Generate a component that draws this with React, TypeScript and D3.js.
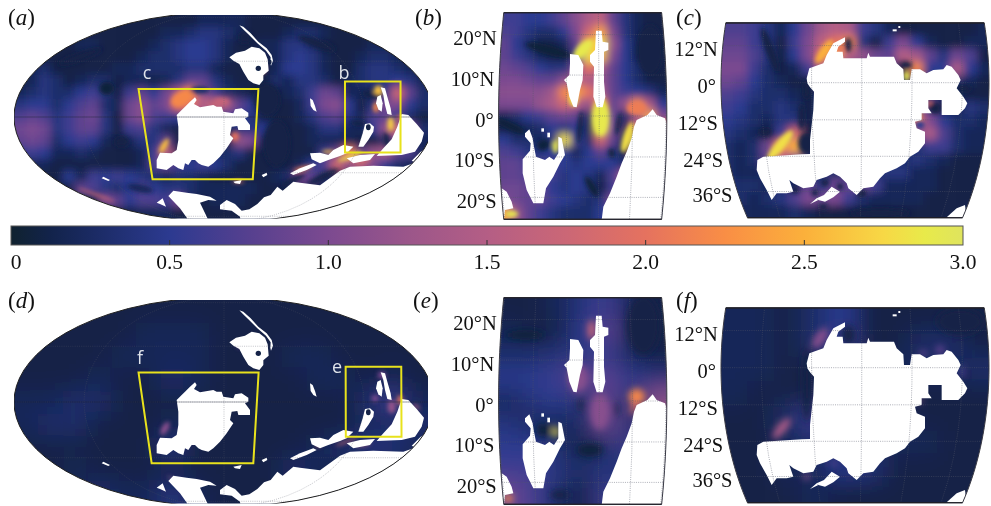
import React from "react";
import * as d3 from "d3";

// colour bar
const barStops = [0, 0.12, 0.25, 0.5, 0.75, 1, 1.25, 1.5, 1.75, 2, 2.25, 2.5, 2.75, 2.88, 3];
const barColors = ["#10222f", "#12234a", "#1a2a62", "#2c3a90", "#56408f", "#7c4a90", "#9b568a", "#b45e85", "#cb6776", "#e5725f", "#f98e45", "#fbb03b", "#f7d845", "#e8ea4a", "#dfe45e"];
const barTicks = [0, 0.5, 1, 1.5, 2, 2.5, 3];
const barLabels = ["0", "0.5", "1.0", "1.5", "2.0", "2.5", "3.0"];

const latTicksB = [20, 10, 0, -10, -20];
const latLabelsB = ["20°N", "10°N", "0°", "10°S", "20°S"];
const latTicksC = [12, 0, -12, -24, -36];
const latLabelsC = ["12°N", "0°", "12°S", "24°S", "36°S"];

// field values, tenths of the colour bar unit
const fieldA = [
  [1,1,1,1,1,1,1,1,1,1,1,1,1,1,1,2,2,2,2,1,1,1,1,1,1,1,1,1,1,1,1,1,1,1],
  [1,1,1,1,1,1,1,1,1,1,1,1,2,2,3,4,4,3,2,1,1,1,2,3,3,2,1,1,1,1,1,1,1,1],
  [1,1,1,1,1,2,2,1,1,1,1,2,3,4,5,5,4,2,1,1,2,2,4,4,3,1,1,1,1,2,2,1,1,1],
  [1,1,1,1,1,1,1,1,1,1,2,3,3,4,5,5,4,2,1,1,1,2,4,5,4,2,1,1,2,3,3,2,1,1],
  [1,2,3,1,1,1,1,1,2,2,3,3,3,3,4,4,2,1,1,1,1,2,5,5,4,2,1,1,3,4,4,3,2,1],
  [1,2,4,3,1,2,3,3,1,2,2,1,2,4,8,8,4,2,1,1,1,3,2,4,4,3,1,2,3,4,4,5,4,2],
  [2,3,4,3,3,5,6,4,1,6,8,5,9,14,22,12,6,3,2,1,1,1,2,3,6,9,8,2,2,1,5,18,8,3],
  [4,5,5,3,5,7,8,3,2,9,11,8,10,20,20,15,18,14,8,5,4,1,1,2,6,10,11,5,1,4,10,10,5,3],
  [7,8,7,4,6,8,9,4,1,9,11,7,6,5,5,5,5,5,5,4,1,1,1,2,4,7,8,4,2,7,8,5,3,1],
  [9,10,9,4,6,8,8,4,1,6,7,4,2,1,1,1,1,1,4,4,5,1,1,1,2,4,4,2,2,5,12,18,10,3],
  [8,9,8,3,5,6,5,2,1,2,4,4,8,1,1,1,1,1,12,10,2,1,1,1,2,2,2,2,1,1,3,10,3,2],
  [5,6,5,2,2,3,2,1,1,1,2,6,16,2,2,2,2,3,4,1,1,1,1,1,1,6,9,22,8,12,14,8,7,2],
  [1,2,2,1,1,1,1,1,1,1,2,7,8,6,5,6,5,3,1,1,1,1,1,2,5,7,18,12,16,10,5,3,2,1],
  [1,1,1,1,5,2,6,5,6,5,4,3,2,3,3,2,1,1,1,1,1,2,3,10,8,3,2,1,1,1,1,1,1,1],
  [1,1,1,1,1,8,7,4,3,5,7,5,4,4,3,2,2,2,2,2,1,1,1,2,1,1,1,1,1,1,1,1,1,1],
  [1,1,1,1,1,1,1,10,8,5,7,7,6,10,2,1,2,2,2,1,1,1,1,1,1,1,1,1,1,1,1,1,1,1],
  [1,1,1,1,1,1,1,1,1,1,2,2,2,1,1,1,1,1,1,1,1,1,1,1,1,1,1,1,1,1,1,1,1,1],
];

const fieldB = [
  [6,6,5,5,6,8,11,14,16,8,4,2,1,1],
  [7,6,4,3,3,5,10,18,24,10,4,2,1,1],
  [8,5,3,1,1,2,8,25,28,12,5,2,1,1],
  [8,6,4,2,1,1,6,28,26,10,5,2,1,1],
  [9,8,7,5,4,4,10,20,14,8,5,3,1,1],
  [10,10,9,8,8,11,16,14,12,8,5,3,1,1],
  [11,11,11,11,13,22,24,20,14,8,6,5,4,2],
  [10,10,10,12,14,18,15,12,22,8,12,22,14,5],
  [2,3,5,6,8,9,8,3,28,9,3,12,24,10],
  [1,1,2,3,5,4,5,2,28,10,2,18,5,18],
  [5,3,3,2,4,28,6,3,18,8,2,28,4,4],
  [7,6,4,4,5,5,2,5,8,4,1,16,5,5],
  [8,8,6,6,6,5,4,5,5,5,3,8,4,4],
  [8,8,7,7,6,4,5,4,2,7,14,5,3,3],
  [9,9,8,8,5,4,5,4,1,6,12,5,3,3],
  [10,9,8,8,6,5,4,3,4,10,5,3,3,3],
  [24,12,8,6,4,3,3,3,5,6,4,3,3,3],
];

const fieldC = [
  [7,7,6,4,2,5,9,13,15,14,6,4,2,1,1,1,1,1,1,2],
  [8,8,6,4,1,6,10,16,20,22,4,1,6,10,5,2,1,1,2,2],
  [9,9,7,4,1,5,10,18,24,15,12,9,8,15,13,8,4,9,7,1],
  [10,10,6,3,1,2,6,14,4,4,4,4,4,1,22,5,5,14,5,2],
  [9,8,5,3,2,1,1,4,3,3,3,3,3,3,3,3,3,3,2,1],
  [7,6,4,3,3,2,1,3,3,3,3,3,3,3,3,3,3,2,1,1],
  [6,5,3,3,4,3,1,3,3,3,3,3,3,3,3,9,1,2,4,3],
  [5,4,3,2,4,4,1,3,3,3,3,3,3,3,20,10,5,3,3,2],
  [4,3,2,1,6,18,1,1,3,3,3,3,3,3,10,14,7,3,2,2],
  [3,2,3,9,20,25,2,1,3,3,3,3,3,3,3,6,6,3,2,2],
  [3,2,3,8,15,8,3,3,3,3,3,3,3,3,4,3,2,1,1,1],
  [3,2,2,3,3,2,3,3,3,3,3,3,4,4,2,2,1,1,1,1],
  [4,3,3,2,3,2,8,4,9,8,9,6,2,2,2,2,1,1,1,1],
  [3,3,2,3,4,7,10,9,10,6,3,2,2,2,2,1,1,1,1,2],
  [2,2,2,2,2,3,2,1,1,1,1,1,1,1,1,1,1,1,2,3],
];

const fieldD = [
  [1,1,1,1,1,1,1,1,1,1,1,1,1,1,1,1,1],
  [1,1,1,1,1,2,2,2,1,1,1,1,1,1,1,1,1],
  [1,1,1,1,2,2,2,2,1,1,1,2,2,1,1,1,1],
  [1,1,1,2,1,1,3,2,1,1,1,1,2,2,1,2,1],
  [2,2,3,3,1,1,1,1,1,1,1,1,1,1,3,6,2],
  [2,3,3,1,1,1,2,1,1,1,1,1,1,1,2,2,3],
  [1,1,1,1,1,1,4,1,1,1,1,1,2,3,4,4,2],
  [1,1,2,1,1,1,1,1,1,1,1,3,2,1,1,1,1],
  [1,1,1,3,2,2,4,2,1,1,1,1,1,1,1,1,1],
];

const fieldE = [
  [1,1,2,4,6,2,1],
  [2,1,1,5,8,2,1],
  [3,3,4,4,5,2,1],
  [5,5,6,8,8,5,4],
  [2,4,5,3,8,3,12],
  [4,2,2,3,9,3,4],
  [5,5,3,1,3,6,3],
  [6,6,4,3,4,3,3],
  [9,6,3,1,6,3,3],
];

const fieldF = [
  [2,2,1,3,5,1,1,1,1,1],
  [2,2,1,3,6,1,1,3,3,1],
  [2,2,1,1,2,2,2,2,2,3],
  [2,1,1,1,2,2,2,1,1,1],
  [1,1,3,6,1,2,2,1,1,1],
  [1,1,2,3,2,2,2,2,1,1],
  [1,1,2,2,5,4,1,1,1,1],
  [1,1,1,2,1,1,1,1,1,1],
];

// local highs and lows: trace x, trace y, radius x, radius y, angle, value in tenths
const spotsA = [
  [545,295,35,22,-30,22],[665,305,25,12,0,17],[492,438,9,26,30,26],[705,410,12,14,0,20],
  [780,205,18,18,0,20],[1135,272,14,16,0,26],[1128,322,9,16,0,22],[1172,372,10,22,0,27],[1198,352,8,8,0,20],
  [320,265,22,20,0,.5],[365,425,22,16,0,1],[735,112,20,18,0,1],[600,270,30,12,0,3],[800,300,40,50,0,1],
  [240,170,70,12,-20,1],[830,430,40,70,0,1],[950,130,60,14,20,1],[1115,285,30,8,15,1],[1075,370,25,7,10,1],[1160,420,8,25,-10,1],[1215,400,6,20,-20,1],
  [910,505,30,5,-15,22],[1050,470,40,6,-20,28],[1092,483,25,4,-15,20],[985,455,20,5,0,26],[290,585,60,4,20,18],[715,545,18,4,0,20],
  [880,540,40,8,-25,1],[970,530,50,10,-25,1],[420,565,40,12,10,2],
];
const topSpotsA = [[775,205,8,8,0,1],[810,186,5,7,0,1],[1105,382,7,9,0,1]];

const spotsB = [
  [520,148,38,18,-45,29],[572,350,24,58,0,29],[652,412,13,48,18,28],[436,440,8,20,0,29],[490,298,14,22,0,28],[305,642,20,10,0,29],[680,325,30,20,0,21],[770,365,6,12,0,20],
  [415,150,70,14,15,.5],[300,378,50,11,25,.5],[510,382,7,50,5,.8],[625,372,6,35,10,.8],[545,560,11,35,-30,.5],[605,460,8,14,-10,.5],[400,435,20,16,-20,.6],[720,150,40,75,0,1],
];
const spotsC = [
  [330,437,16,58,40,28],[710,228,9,16,0,29],[748,345,4,14,0,28],[780,310,7,8,0,20],[450,270,12,4,0,18],[510,148,10,6,0,20],[462,155,14,42,35,25],
  [410,430,25,32,0,1],[395,350,10,40,0,1],[410,270,12,30,0,1],[285,395,20,12,0,1],[708,195,18,10,0,1],[535,135,10,22,0,1],[795,325,20,18,0,1],[750,375,14,12,0,5],
  [880,265,25,12,0,1],[630,640,90,15,0,1],[575,580,15,12,0,1],[375,570,10,10,0,1],[435,578,10,10,0,1],[465,548,12,10,0,1],[510,560,10,10,0,1],[460,620,12,8,0,1],[300,150,14,70,-20,1],
];
const spotsD = [
  [495,430,10,22,30,11],[720,180,10,10,0,8],[1200,345,8,14,0,20],[1175,365,12,20,0,12],[1145,270,12,10,0,10],[1125,340,10,10,0,10],
  [1040,470,35,3,-20,18],[1090,480,25,3,-15,16],[955,482,10,3,-15,18],[1250,365,12,4,40,16],[535,595,40,3,35,12],[775,205,10,10,0,1],
];
const topSpotsD = [[775,205,8,8,0,1],[1105,382,7,9,0,1]];
const spotsE = [
  [545,135,12,30,0,17],[505,280,30,40,0,11],[680,335,24,24,0,22],[672,365,8,25,15,20],[760,365,8,14,0,16],[437,440,8,18,0,28],[295,640,14,12,0,22],[570,380,30,55,0,11],
  [345,150,60,14,0,.5],[512,360,8,22,0,1],[620,372,6,22,0,1],[400,435,22,20,0,.5],[540,495,40,20,0,.6],[450,630,30,15,0,1],[700,120,50,90,0,1],
];
const spotsF = [
  [450,160,16,36,35,11],[335,430,14,40,40,14],[750,345,4,14,0,14],[760,205,12,10,0,8],[410,575,12,8,0,11],[490,535,18,8,0,7],[875,260,8,20,0,7],[810,195,14,14,0,8],
  [410,300,14,110,0,1],[535,150,20,30,0,1],[870,110,70,40,0,1],
];

// coastlines traced on a 3x enlargement of each panel
const landA = [
  [[718,76],[730,80],[752,100],[775,125],[800,145],[815,165],[819,182],[813,197],[811,188],[812,172],[798,152],[772,130],[748,106],[728,86]],
  [[688,172],[708,158],[735,152],[755,140],[778,145],[795,158],[803,178],[806,212],[790,226],[790,240],[778,255],[760,250],[745,240],[730,215],[718,192],[700,182]],
  [[530,345],[545,330],[555,320],[570,305],[585,292],[590,300],[582,312],[600,322],[640,315],[650,320],[665,320],[670,335],[700,340],[705,328],[725,325],[745,338],[745,350],[735,355],[750,375],[750,390],[715,390],[712,378],[695,380],[690,405],[700,415],[690,430],[680,445],[660,470],[640,490],[625,500],[605,495],[595,490],[585,480],[575,480],[565,495],[555,490],[550,510],[535,505],[520,495],[500,510],[470,505],[470,480],[480,458],[515,460],[530,450],[535,420],[535,380]],
  [[930,295],[938,300],[945,318],[950,335],[940,330],[932,318]],
  [[1132,290],[1142,285],[1148,310],[1145,335],[1135,328],[1128,310]],
  [[1142,262],[1155,265],[1162,290],[1172,325],[1175,345],[1162,342],[1155,315],[1150,285]],
  [[1075,440],[1088,400],[1095,372],[1110,370],[1122,380],[1120,395],[1105,420],[1090,440]],
  [[1205,342],[1225,345],[1250,372],[1272,398],[1265,425],[1245,455],[1205,465],[1130,468],[1150,445],[1175,418],[1192,380]],
  [[930,460],[960,458],[985,465],[1000,450],[1030,435],[1060,440],[1040,460],[1020,468],[985,480],[960,490],[935,478]],
  [[1040,475],[1080,465],[1125,462],[1110,480],[1060,490]],
  [[870,520],[900,505],[940,490],[950,495],[920,510],[880,525]],
  [[1235,482],[1262,455],[1283,445],[1283,458],[1255,492]],
  [[505,588],[520,572],[560,578],[590,582],[630,590],[650,602],[625,600],[600,608],[625,660],[565,660],[540,625]],
  [[660,615],[680,600],[705,612],[725,632],[748,628],[772,612],[792,592],[812,585],[832,560],[848,572],[880,545],[900,548],[960,556],[1020,512],[1050,500],[1120,497],[1210,500],[1240,490],[1290,470],[1290,700],[725,700],[720,650],[695,632],[660,628]],
  [[470,608],[488,595],[498,620],[480,612]],
  [[310,530],[330,540],[325,543],[305,535]],
  [[700,545],[725,540],[720,552],[705,550]],
  [[785,525],[800,518],[802,525],[790,532]],
];

const landB = [
  [[480,162],[505,165],[520,195],[518,240],[510,270],[500,322],[490,320],[478,290],[470,250],[462,240],[478,225],[480,190]],
  [[558,92],[575,92],[578,125],[595,128],[595,150],[582,155],[582,245],[586,290],[578,322],[560,322],[550,290],[552,200],[540,185],[540,165],[555,150]],
  [[345,400],[358,388],[368,415],[372,440],[378,470],[405,480],[418,470],[432,480],[445,460],[445,410],[455,415],[465,465],[450,490],[430,530],[408,565],[400,610],[370,610],[350,570],[338,520],[338,478],[360,452],[362,430],[345,410]],
  [[394,385],[402,385],[402,395],[394,395]],
  [[412,398],[420,398],[420,412],[412,412]],
  [[680,360],[712,345],[728,328],[740,345],[765,355],[772,375],[772,660],[575,660],[580,620],[600,580],[620,530],[635,490],[650,455],[665,415],[672,380]],
  [[275,565],[290,575],[305,605],[310,625],[285,630],[282,660],[268,660]],
];

const landC = [
  [[410,235],[418,205],[460,190],[470,165],[490,130],[525,112],[525,125],[505,140],[500,155],[518,155],[520,175],[590,175],[595,158],[600,170],[672,170],[680,190],[700,208],[702,240],[720,240],[725,208],[750,208],[770,220],[790,210],[820,208],[830,195],[845,200],[865,225],[872,240],[860,265],[880,290],[892,310],[885,325],[865,345],[815,345],[815,300],[775,300],[775,325],[785,340],[755,340],[755,360],[735,365],[740,385],[765,395],[765,430],[745,455],[720,470],[705,490],[680,505],[645,520],[630,535],[610,560],[580,565],[560,585],[535,565],[530,550],[510,530],[490,520],[470,530],[440,540],[430,560],[400,565],[370,550],[358,540],[370,575],[350,580],[320,580],[305,600],[290,570],[270,535],[260,510],[262,480],[280,470],[395,463],[420,462],[420,420],[430,330],[432,275],[420,262],[412,250]],
  [[420,612],[440,595],[462,585],[485,560],[510,575],[490,592],[465,605],[445,600]],
  [[830,652],[860,625],[885,615],[888,640],[878,658],[830,658]],
  [[668,88],[680,88],[680,94],[668,94]],
  [[685,78],[691,78],[691,84],[685,84]],
];

const mollweideRaw = (lambda: number, phi: number) => {
  let theta = phi;
  for (let i = 0; i < 30; i++) {
    const d = 2 * theta + Math.sin(2 * theta) - Math.PI * Math.sin(phi);
    const dd = 2 + 2 * Math.cos(2 * theta);
    if (Math.abs(dd) < 1e-9) break;
    theta -= d / dd;
  }
  return [(2 * Math.SQRT2 / Math.PI) * lambda * Math.cos(theta), Math.SQRT2 * Math.sin(theta)];
};

const makeProjection = (scale: number, cx: number, cy: number, lon0 = 0) =>
  d3.geoProjection(mollweideRaw as any).scale(scale).translate([cx, cy]).rotate([-lon0, 0]).precision(0.3);

const color = d3.scaleLinear<string>().domain(barStops).range(barColors).clamp(true);
const polyLine = d3.line();
const serif = "'Liberation Serif', serif";

// cells of a field, blurred into a smooth raster; edge cells run on past the panel
function Field({ grid, box, blur, spotBlur, spots, topSpots, land, tx, ty }: any) {
  const [x0, y0, x1, y1] = box;
  const xb = d3.scaleBand<number>().domain(d3.range(grid[0].length)).range([x0, x1]);
  const yb = d3.scaleBand<number>().domain(d3.range(grid.length)).range([y0, y1]);
  const over = 40;
  const drawSpot = (s: number[], i: number) => (
    <ellipse
      key={i}
      cx={tx(s[0])}
      cy={ty(s[1])}
      rx={s[2] / 3}
      ry={s[3] / 3}
      fill={color(s[5] / 10)}
      transform={`rotate(${s[4]} ${tx(s[0])} ${ty(s[1])})`}
    />
  );
  return (
    <g>
      <g filter={`url(#${blur})`}>
        {grid.map((row: number[], r: number) =>
          row.map((v, c) => {
            const left = c === 0 ? over : 0;
            const right = c === row.length - 1 ? over : 0;
            const up = r === 0 ? over : 0;
            const down = r === grid.length - 1 ? over : 0;
            return (
              <rect
                key={c}
                x={xb(c)! - left}
                y={yb(r)! - up}
                width={xb.bandwidth() + left + right + 0.5}
                height={yb.bandwidth() + up + down + 0.5}
                fill={color(v / 10)}
              />
            );
          })
        )}
      </g>
      <g filter={`url(#${spotBlur})`}>{spots.map(drawSpot)}</g>
      <g filter="url(#edge)">
        {land.map((p: [number, number][], i: number) => (
          <path key={i} d={polyLine(p.map((q) => [tx(q[0]), ty(q[1])]))! + "Z"} fill="#fff" />
        ))}
      </g>
      {topSpots && <g filter="url(#edge)">{topSpots.map(drawSpot)}</g>}
    </g>
  );
}

function GlobalMap({ id, dy, grid, blur, spotBlur, spots, topSpots, boxes, names }: any) {
  const projection = makeProjection(105 / Math.SQRT2, 224, 117 + dy);
  const path = d3.geoPath(projection);
  const graticule = d3.geoGraticule().stepMinor([120, 40]).stepMajor([120, 40]).extentMajor([[-180, -90], [180, 90.01]]).extentMinor([[-180, -80], [180, 80.01]]);
  const tx = d3.scaleLinear().domain([0, 1320]).range([0, 440]);
  const ty = d3.scaleLinear().domain([0, 675]).range([dy, 225 + dy]);
  const clipBox = [14, 15 + dy, 428, 218.5 + dy];
  return (
    <g>
      <defs>
        <clipPath id={`${id}-r`}>
          <rect x={clipBox[0]} y={clipBox[1]} width={clipBox[2] - clipBox[0]} height={clipBox[3] - clipBox[1]} />
        </clipPath>
        <clipPath id={`${id}-s`}>
          <path d={path({ type: "Sphere" } as any)!} />
        </clipPath>
      </defs>
      <g clipPath={`url(#${id}-r)`}>
        <g clipPath={`url(#${id}-s)`}>
          <Field grid={grid} box={clipBox} blur={blur} spotBlur={spotBlur} spots={spots} topSpots={topSpots} land={landA} tx={tx} ty={ty} />
          <path d={path(graticule())!} fill="none" stroke="#555a66" strokeOpacity={0.5} strokeWidth={0.7} strokeDasharray="1 1.2" />
          <path d={path({ type: "LineString", coordinates: [[-180, 0], [-90, 0], [0, 0], [90, 0], [180, 0]] } as any)!} fill="none" stroke="#141a30" strokeOpacity={0.5} strokeWidth={0.7} />
        </g>
        <path d={path({ type: "Sphere" } as any)!} fill="none" stroke="#222" strokeWidth={1} />
      </g>
      {boxes.map((b: any, i: number) => {
        const corners = [[b.lon0 - b.dlon, b.top], [b.lon0 + b.dlon, b.top], [b.lon0 + b.dlon, b.bottom], [b.lon0 - b.dlon, b.bottom]].map((c) => projection(c as [number, number])!);
        return <path key={i} d={polyLine(corners as any)! + "Z"} fill="none" stroke="#e8e21c" strokeWidth={2} />;
      })}
      {names.map((n: any) => (
        <text key={n.t} x={n.x} y={n.y + dy} fontFamily="'Open Sans', sans-serif" fontSize={18} fill="#dfe3ea" textAnchor="middle">
          {n.t}
        </text>
      ))}
    </g>
  );
}

function RegionMap({ id, dy, grid, blur, spotBlur, spots, land, view, ticks, labels, trace }: any) {
  const { scale, cx, cy, lon0, dlon, top, bottom, step, box } = view;
  const projection = makeProjection(scale, cx, cy + dy, lon0);
  const path = d3.geoPath(projection);
  const lats = d3.range(bottom, top + 0.01, (top - bottom) / 30);
  const left = lats.map((la) => projection([lon0 - dlon, la])!);
  const right = lats.map((la) => projection([lon0 + dlon, la])!).reverse();
  const frame = polyLine([...left, ...right] as any)! + "Z";
  const graticule = d3.geoGraticule().extent([[lon0 - dlon, bottom], [lon0 + dlon, top]]).step([step[0], step[1]]);
  const tx = d3.scaleLinear().domain([0, trace[2]]).range([trace[0], trace[0] + trace[2] / 3]);
  const ty = d3.scaleLinear().domain([0, 675]).range([dy, 225 + dy]);
  const yTop = projection([lon0, top])![1];
  const yBottom = projection([lon0, bottom])![1];
  return (
    <g>
      <defs>
        <clipPath id={id}>
          <path d={frame} />
        </clipPath>
      </defs>
      <g clipPath={`url(#${id})`}>
        <Field grid={grid} box={[box[0], box[1] + dy, box[2], box[3] + dy]} blur={blur} spotBlur={spotBlur} spots={spots} land={land} tx={tx} ty={ty} />
        <path d={path(graticule())!} fill="none" stroke="#55596a" strokeOpacity={0.6} strokeWidth={0.8} strokeDasharray="1 1.2" />
      </g>
      <path d={frame} fill="none" stroke="#3a3a44" strokeWidth={1} />
      <line x1={left[left.length - 1][0]} x2={right[0][0]} y1={yTop} y2={yTop} stroke="#15151c" strokeWidth={1.2} />
      <line x1={left[0][0]} x2={right[right.length - 1][0]} y1={yBottom} y2={yBottom} stroke="#15151c" strokeWidth={1.2} />
      {ticks.map((la: number, i: number) => {
        const p = projection([lon0 - dlon, la])!;
        return (
          <text key={la} x={p[0] - 5} y={p[1] + 10.5} textAnchor="end" fontFamily={serif} fontSize={20.5} fill="#111">
            {labels[i]}
          </text>
        );
      })}
    </g>
  );
}

const PanelLabel = ({ x, y, t }: any) => (
  <text x={x} y={y} fontFamily={serif} fontSize={23} fill="#111">
    (<tspan fontStyle="italic">{t}</tspan>)
  </text>
);

const viewB = { scale: 211.6, cx: 582.7, cy: 116, lon0: 135, dlon: 25.3, top: 25.5, bottom: -25.5, step: [10, 10], box: [498, 14, 667, 218] };
const viewC = { scale: 160, cx: 855, cy: 82.7, lon0: -22.7, dlon: 53.3, top: 19.4, bottom: -45.4, step: [20, 12], box: [720, 23, 991, 218] };

export default function App() {
  const barX = d3.scaleLinear().domain([0, 3]).range([11, 963]);
  return (
    <svg width={991} height={506} viewBox="0 0 991 506" style={{ position: "absolute", left: 0, top: 0, background: "#fff" }}>
      <defs>
        <filter id="wide" filterUnits="userSpaceOnUse" x={-60} y={-60} width={1111} height={626}>
          <feGaussianBlur stdDeviation={4.2} />
        </filter>
        <filter id="wider" filterUnits="userSpaceOnUse" x={-60} y={-60} width={1111} height={626}>
          <feGaussianBlur stdDeviation={12} />
        </filter>
        <filter id="soft" filterUnits="userSpaceOnUse" x={-60} y={-60} width={1111} height={626}>
          <feGaussianBlur stdDeviation={2} />
        </filter>
        <filter id="softer" filterUnits="userSpaceOnUse" x={-60} y={-60} width={1111} height={626}>
          <feGaussianBlur stdDeviation={3.5} />
        </filter>
        <filter id="edge" filterUnits="userSpaceOnUse" x={-60} y={-60} width={1111} height={626}>
          <feGaussianBlur stdDeviation={0.4} />
        </filter>
        <linearGradient id="bar" x1="0" x2="1" y1="0" y2="0">
          {barStops.map((s, i) => (
            <stop key={s} offset={s / 3} stopColor={barColors[i]} />
          ))}
        </linearGradient>
      </defs>

      <GlobalMap
        id="a"
        dy={0}
        grid={fieldA}
        blur="wide"
        spotBlur="soft"
        spots={spotsA}
        topSpots={topSpotsA}
        boxes={[
          { lon0: -22.7, dlon: 53.3, top: 19.6, bottom: -45 },
          { lon0: 135.5, dlon: 25.3, top: 25, bottom: -25 },
        ]}
        names={[{ t: "c", x: 147, y: 79 }, { t: "b", x: 344, y: 79 }]}
      />
      <GlobalMap
        id="d"
        dy={285}
        grid={fieldD}
        blur="wider"
        spotBlur="soft"
        spots={spotsD}
        topSpots={topSpotsD}
        boxes={[
          { lon0: -22.7, dlon: 53.6, top: 20.6, bottom: -44.2 },
          { lon0: 136, dlon: 25.3, top: 24.8, bottom: -24.5 },
        ]}
        names={[{ t: "f", x: 140, y: 79 }, { t: "e", x: 337, y: 88 }]}
      />
      <RegionMap id="b" dy={0} grid={fieldB} blur="wide" spotBlur="soft" spots={spotsB} land={landB} view={viewB} ticks={latTicksB} labels={latLabelsB} trace={[410, 0, 810]} />
      <RegionMap id="e" dy={285} grid={fieldE} blur="wider" spotBlur="softer" spots={spotsE} land={landB} view={viewB} ticks={latTicksB} labels={latLabelsB} trace={[410, 0, 810]} />
      <RegionMap id="c" dy={0} grid={fieldC} blur="wide" spotBlur="soft" spots={spotsC} land={landC} view={viewC} ticks={latTicksC} labels={latLabelsC} trace={[670, 0, 963]} />
      <RegionMap id="f" dy={285} grid={fieldF} blur="wider" spotBlur="softer" spots={spotsF} land={landC} view={viewC} ticks={latTicksC} labels={latLabelsC} trace={[670, 0, 963]} />

      <rect x={barX(0)} y={226} width={barX(3) - barX(0)} height={19} fill="url(#bar)" stroke="#555" strokeWidth={1} />
      {barTicks.map((v, i) => (
        <g key={v}>
          {i > 0 && i < barTicks.length - 1 && <line x1={barX(v)} x2={barX(v)} y1={240} y2={245} stroke="#333" />}
          <text x={i === 0 ? barX(v) + 5 : barX(v)} y={269} textAnchor="middle" fontFamily={serif} fontSize={21.5} fill="#111">
            {barLabels[i]}
          </text>
        </g>
      ))}

      <PanelLabel x={8} y={25} t="a" />
      <PanelLabel x={415} y={25} t="b" />
      <PanelLabel x={676} y={25} t="c" />
      <PanelLabel x={8} y={308} t="d" />
      <PanelLabel x={413} y={308} t="e" />
      <PanelLabel x={676} y={308} t="f" />
    </svg>
  );
}
